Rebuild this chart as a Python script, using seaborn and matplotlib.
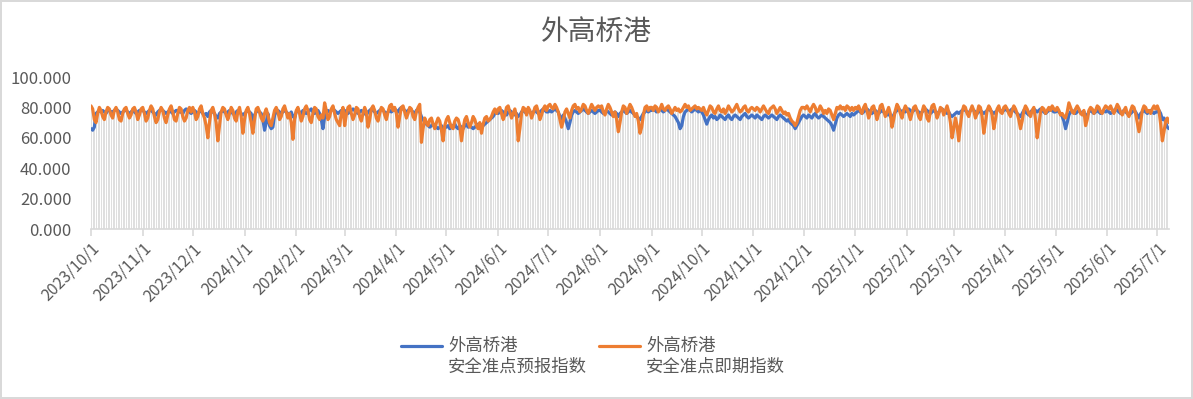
import numpy as np
import pandas as pd
import matplotlib
matplotlib.use("Agg")
import matplotlib.pyplot as plt
import matplotlib.ticker as mticker
from matplotlib.lines import Line2D
from matplotlib.legend_handler import HandlerLine2D
import seaborn as sns

title = "外高桥港"
series_names = ["外高桥港\n安全准点预报指数", "外高桥港\n安全准点即期指数"]
start_date = "2023-10-01"
y_ticks = [0, 20, 40, 60, 80, 100]

# daily values, one line per month (2023-10 ... 2025-07)
forecast = [
    66,65,67,76,77,78,77,78,77,76,78,78,77,77,78,79,78,77,76,77,78,78,77,76,77,78,77,76,77,78,78,
    78,77,76,77,78,78,77,76,75,77,78,79,78,77,76,77,78,77,76,77,78,78,77,77,76,78,79,78,77,76,
    77,78,77,76,77,78,76,75,76,74,77,78,77,76,74,73,76,77,78,77,76,77,78,77,76,75,77,78,77,76,75,
    76,77,78,77,76,70,75,77,78,77,76,72,65,70,76,68,66,67,75,77,78,77,76,77,78,77,76,75,77,74,73,
    77,78,77,76,78,77,76,77,78,79,77,76,77,78,76,72,66,74,77,78,77,78,79,78,77,76,77,78,77,
    78,77,76,77,78,79,78,77,76,77,78,77,76,75,77,78,79,78,77,76,77,78,79,78,77,76,77,78,77,78,79,
    78,77,79,80,79,78,77,78,79,78,77,76,78,79,77,74,72,70,69,68,67,68,69,68,67,66,67,68,66,67,
    67,68,66,67,68,69,67,66,68,67,66,68,69,67,68,67,66,67,68,69,68,67,68,69,70,71,72,73,74,76,77,
    76,77,78,77,76,75,77,78,77,76,75,76,74,75,77,78,77,76,78,77,76,77,78,77,76,77,78,79,78,77,
    77,78,77,78,79,78,77,74,72,75,73,70,66,70,75,77,78,77,76,77,78,79,78,77,76,77,78,77,76,77,78,
    78,77,76,77,78,77,76,75,76,77,76,74,76,77,78,77,76,77,78,77,76,75,74,73,72,74,76,77,78,77,78,
    78,79,78,77,78,79,78,77,78,79,78,77,76,75,74,72,70,66,68,74,77,78,79,78,77,78,79,78,77,78,
    77,75,72,69,72,74,75,73,74,72,73,75,74,73,72,74,75,73,72,74,75,74,73,72,74,75,76,74,73,74,75,
    74,73,75,74,73,72,74,75,74,73,74,75,74,73,72,74,75,74,73,72,71,72,70,69,68,66,68,70,72,74,
    75,74,73,75,74,73,75,76,74,73,74,75,74,73,72,71,70,68,65,69,73,75,76,75,74,75,76,75,74,76,75,
    76,77,78,77,76,77,78,79,78,77,76,77,78,77,76,77,78,77,76,75,76,74,73,75,77,78,79,78,77,78,77,
    78,79,78,77,78,79,78,77,76,77,78,79,78,77,76,77,78,77,76,77,78,79,78,77,76,77,75,74,
    75,76,77,76,77,78,79,78,77,76,78,79,78,77,76,77,78,77,76,77,78,79,78,77,76,77,78,79,78,77,78,
    79,78,77,78,79,78,77,76,75,74,76,78,77,76,75,77,78,79,78,77,78,79,78,77,76,77,78,79,78,77,
    77,78,77,76,74,71,66,70,75,77,78,77,76,77,78,77,76,77,74,75,77,78,77,76,77,78,77,76,77,78,77,
    78,77,76,77,78,79,78,77,76,77,78,77,76,75,76,77,78,77,75,73,76,77,78,77,76,77,78,77,76,77,
    77,78,76,72,73,70,67,66,
]

immediate = [
    81,79,72,70,76,80,78,74,72,77,80,79,75,73,78,80,77,72,71,76,79,80,76,73,75,79,80,77,72,75,79,
    80,76,71,73,78,81,79,74,70,72,77,80,78,73,70,75,79,81,77,72,71,76,80,79,74,71,73,78,80,77,
    80,77,72,74,79,81,76,73,68,60,70,78,80,76,70,58,68,77,80,79,75,72,76,80,78,73,71,77,80,74,63,
    72,78,80,76,70,63,72,79,80,77,73,71,76,79,75,70,68,73,78,80,77,72,74,79,81,77,73,76,70,59,72,
    78,80,76,71,74,79,81,78,72,70,76,80,79,74,72,75,73,83,78,72,74,79,81,76,72,70,68,76,80,
    68,75,80,81,76,72,75,80,79,74,71,76,80,77,67,72,79,81,78,73,71,76,80,79,75,72,77,81,82,78,80,
    76,67,74,80,81,77,73,76,80,79,74,72,77,80,82,57,66,73,70,68,72,73,69,66,70,73,71,65,58,68,
    72,74,70,67,66,71,73,72,68,58,66,72,74,70,67,70,74,72,68,66,70,63,69,73,74,71,72,74,77,79,76,
    79,80,76,72,75,80,81,77,73,76,79,74,58,66,76,80,79,75,80,78,73,76,80,81,77,72,75,79,81,78,
    81,82,80,79,82,80,77,72,67,71,77,79,76,73,78,81,82,79,80,77,79,82,81,78,76,79,82,80,78,80,81,
    80,81,77,75,79,82,80,77,74,77,72,64,70,77,81,80,76,79,82,80,77,74,76,71,63,67,75,80,81,78,80,
    80,78,81,80,77,79,82,79,78,80,81,79,76,78,80,78,79,77,78,80,82,80,81,78,79,80,81,79,80,79,
    78,80,77,75,78,81,80,77,76,79,81,78,77,79,76,78,81,79,77,78,80,82,79,77,78,80,81,78,77,79,80,
    79,78,80,79,77,79,81,79,77,76,79,80,81,79,76,78,80,78,76,77,75,76,73,71,70,68,70,74,78,80,
    80,79,81,79,77,80,82,80,77,78,81,79,76,78,76,79,78,75,72,76,80,79,81,79,80,78,81,80,78,80,78,
    80,79,81,78,76,80,82,78,73,76,80,81,77,72,76,81,82,78,74,77,80,76,67,72,78,82,80,76,73,78,81,
    79,76,72,76,80,81,78,74,72,77,81,79,73,71,77,81,82,78,73,76,80,79,75,78,81,77,70,60,
    66,73,68,58,68,77,81,80,76,74,78,81,78,73,76,81,80,74,63,70,78,81,79,75,66,72,79,81,77,76,80,
    81,79,76,74,78,81,79,76,72,66,71,78,81,79,76,74,78,80,72,60,68,77,80,79,76,78,80,78,81,79,
    78,80,78,75,76,74,73,77,83,80,77,76,79,81,79,76,75,78,68,72,78,80,79,76,78,81,80,77,76,79,81,
    80,79,81,78,76,79,82,80,77,75,78,80,76,74,78,81,80,76,70,64,70,78,81,80,77,78,76,79,81,79,
    81,78,69,58,64,71,73,70,
]

assert len(forecast) == len(immediate)
dates = pd.date_range(start_date, periods=len(forecast), freq="D")

df = pd.DataFrame({"date": dates, "forecast": forecast, "immediate": immediate})
long = df.melt(id_vars="date", var_name="series", value_name="value")
long["series"] = long["series"].map({"forecast": series_names[0], "immediate": series_names[1]})

sns.set_theme(style="white")
plt.rcParams["font.family"] = ["Noto Sans CJK SC", "DejaVu Sans"]

text_color = "#595959"
grid_color = "#d9d9d9"
colors = {series_names[0]: "#4472C4", series_names[1]: "#ED7D31"}

fig = plt.figure(figsize=(11.93, 3.99), dpi=100)
fig.patch.set_facecolor("white")
fig.patch.set_edgecolor(grid_color)
fig.patch.set_linewidth(1.5)
ax = fig.add_axes([91 / 1193, 1 - 229 / 399, (1169 - 91) / 1193, (229 - 77) / 399])

# drop lines
tops = np.maximum(df["forecast"].values, df["immediate"].values)
ax.vlines(df["date"], 0, tops, colors="#d9d9d9", linewidth=0.6, zorder=1)

sns.lineplot(data=long, x="date", y="value", hue="series", palette=colors,
             linewidth=2.3, ax=ax, zorder=3, legend=True)

ax.set_ylim(0, 100)
ax.set_yticks(y_ticks)
ax.yaxis.set_major_formatter(mticker.FuncFormatter(lambda v, p: f"{v:.3f}"))
ax.set_xlim(dates[0], dates[-1])

month_starts = pd.date_range(start_date, dates[-1], freq="MS")
ax.set_xticks(month_starts)
ax.set_xticklabels([f"{d.year}/{d.month}/{d.day}" for d in month_starts],
                   rotation=45, ha="right", rotation_mode="anchor")
ax.set_xlabel("")
ax.set_ylabel("")

for s in ["top", "right", "left"]:
    ax.spines[s].set_visible(False)
ax.spines["bottom"].set_color(grid_color)
ax.spines["bottom"].set_linewidth(1.2)
ax.tick_params(axis="x", which="major", bottom=True, length=5, width=1.2,
               color=grid_color, labelsize=11.5, labelcolor=text_color, pad=3)
ax.tick_params(axis="y", left=False, labelsize=12, labelcolor=text_color, pad=8)

fig.text(0.5, 1 - 32 / 399, title, ha="center", va="center", fontsize=20, color=text_color)


class TopAlignedLine(HandlerLine2D):
    def create_artists(self, legend, orig_handle, xdescent, ydescent, width, height,
                       fontsize, trans):
        artists = super().create_artists(legend, orig_handle, xdescent, ydescent,
                                         width, height, fontsize, trans)
        for a in artists:
            a.set_ydata(np.asarray(a.get_ydata(), float) + 0.62 * fontsize)
        return artists


handles, labels = ax.get_legend_handles_labels()
ax.legend_.remove()
leg = fig.legend(handles, labels, loc="center", bbox_to_anchor=(0.497, 1 - 356 / 399), ncol=2,
                 frameon=False, fontsize=12.5, handlelength=2.35, columnspacing=0.7,
                 handletextpad=0.35, labelcolor=text_color,
                 handler_map={Line2D: TopAlignedLine()})
for t in leg.get_texts():
    t.set_linespacing(1.2)

fig.savefig("out.png", dpi=100)
